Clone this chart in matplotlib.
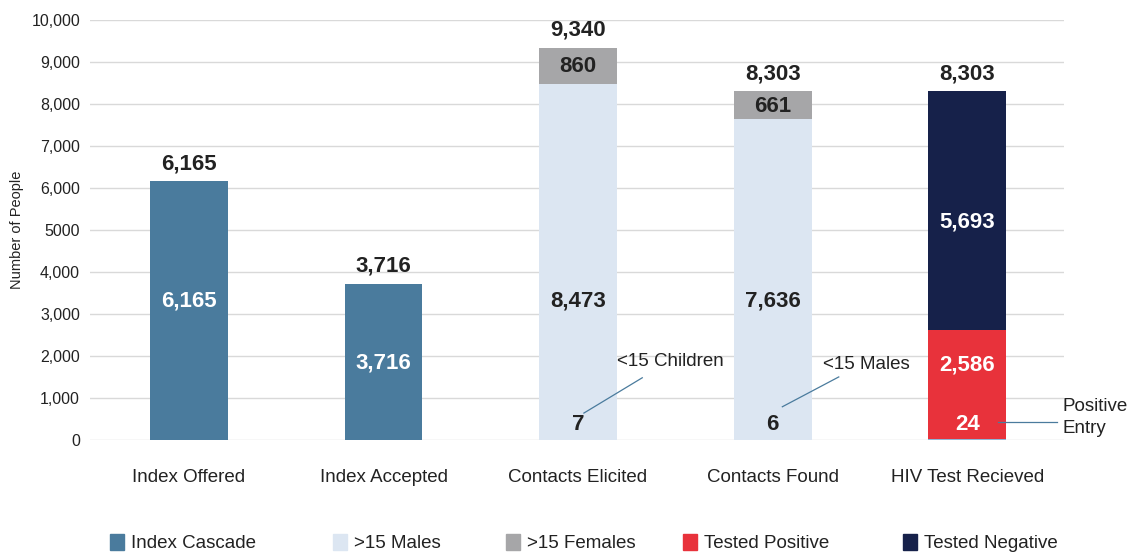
import numpy as np
import matplotlib.pyplot as plt
from matplotlib.patches import Rectangle

plt.rcParams['font.family'] = ['Liberation Sans', 'DejaVu Sans']

categories = ['Index Offered', 'Index Accepted', 'Contacts Elicited', 'Contacts Found', 'HIV Test Recieved']

index_cascade = [6165, 3716, 0, 0, 0]
under15 = [0, 0, 7, 6, 0]
males_15 = [0, 0, 8473, 7636, 0]
females_15 = [0, 0, 860, 661, 0]
positive_entry = [0, 0, 0, 0, 24]
tested_pos = [0, 0, 0, 0, 2586]
tested_neg = [0, 0, 0, 0, 5693]
totals = [6165, 3716, 9340, 8303, 8303]

yticks = [0, 1000, 2000, 3000, 4000, 5000, 6000, 7000, 8000, 9000, 10000]
ytick_labels = ['0', '1,000', '2,000', '3,000', '4,000', '5000', '6,000',
                '7,000', '8,000', '9,000', '10,000']

c_index = '#4A7B9D'
c_male = '#DCE6F2'
c_female = '#A6A6A8'
c_pos = '#E8323B'
c_neg = '#16214A'
c_child = '#F4B183'
c_entry = '#8FB4D6'
c_text = '#222222'

fig = plt.figure(figsize=(11.36, 5.52), dpi=100)
ax = fig.add_axes([0.079, 0.203, 0.858, 0.761])

x = np.arange(len(categories))
w = 0.4

ax.bar(x, index_cascade, w, color=c_index, zorder=2)
b = np.array(under15)
ax.bar(x, under15, w, color=c_child, zorder=2)
ax.bar(x, males_15, w, bottom=b, color=c_male, zorder=2)
b = b + np.array(males_15)
ax.bar(x, females_15, w, bottom=b, color=c_female, zorder=2)
b2 = np.array(positive_entry)
ax.bar(x, positive_entry, w, color=c_entry, zorder=3)
ax.bar(x, tested_pos, w, bottom=b2, color=c_pos, zorder=2)
b2 = b2 + np.array(tested_pos)
ax.bar(x, tested_neg, w, bottom=b2, color=c_neg, zorder=2)

# totals above bars
for xi, t in zip(x, totals):
    ax.annotate(f'{t:,}', (xi, t), xytext=(0, 5), textcoords='offset points',
                ha='center', va='bottom', fontsize=16, fontweight='bold', color=c_text)

# inner labels
lbl = dict(ha='center', va='center', fontsize=16, fontweight='bold')
ax.text(0, 3300, '6,165', color='white', **lbl)
ax.text(1, 1840, '3,716', color='white', **lbl)
ax.text(2, 3300, '8,473', color=c_text, **lbl)
ax.text(2, 8880, '860', color=c_text, **lbl)
ax.text(2, 360, '7', color=c_text, **lbl)
ax.text(3, 3300, '7,636', color=c_text, **lbl)
ax.text(3, 7930, '661', color=c_text, **lbl)
ax.text(3, 360, '6', color=c_text, **lbl)
ax.text(4, 5190, '5,693', color='white', **lbl)
ax.text(4, 1790, '2,586', color='white', **lbl)
ax.text(4, 360, '24', color='white', **lbl)

# callouts
lc = '#4A7B9D'
ax.plot([2.03, 2.33], [640, 1480], color=lc, lw=0.9, zorder=4)
ax.text(2.2, 1860, '<15 Children', ha='left', va='center', fontsize=13.5, color=c_text)
ax.plot([3.05, 3.34], [790, 1500], color=lc, lw=0.9, zorder=4)
ax.text(3.26, 1790, '<15 Males', ha='left', va='center', fontsize=13.5, color=c_text)
ax.plot([4.16, 4.46], [430, 430], color=lc, lw=0.9, zorder=4, clip_on=False)
ax.text(4.49, 530, 'Positive\nEntry', ha='left', va='center', fontsize=13.5,
        color=c_text, linespacing=1.4, clip_on=False)

ax.set_xlim(-0.51, 4.5)
ax.set_ylim(0, 10000)
ax.set_yticks(yticks)
ax.set_yticklabels(ytick_labels)
ax.set_xticks(x)
ax.set_xticklabels(categories, fontsize=13.5, color=c_text)
ax.tick_params(axis='y', labelsize=11.5, colors=c_text, length=0, pad=7)
ax.tick_params(axis='x', length=0, pad=21)
ax.grid(axis='y', color='#D9D9D9', lw=1, zorder=0)
for s in ax.spines.values():
    s.set_visible(False)
ax.set_ylabel('Number of People', fontsize=10.5, color=c_text)
ax.yaxis.set_label_coords(-0.067, 0.5)

# legend along the bottom
legend_items = [('Index Cascade', c_index, 110), ('>15 Males', c_male, 333),
                ('>15 Females', c_female, 506), ('Tested Positive', c_pos, 683),
                ('Tested Negative', c_neg, 903)]
W, H = 1136, 552
for name, col, px in legend_items:
    fig.add_artist(Rectangle((px / W, (H - 550) / H), 14 / W, 16 / H,
                             transform=fig.transFigure, color=col))
    fig.text((px + 21) / W, (H - 544) / H, name, ha='left', va='center',
             fontsize=13.5, color=c_text)

fig.savefig('out.png', dpi=100)
